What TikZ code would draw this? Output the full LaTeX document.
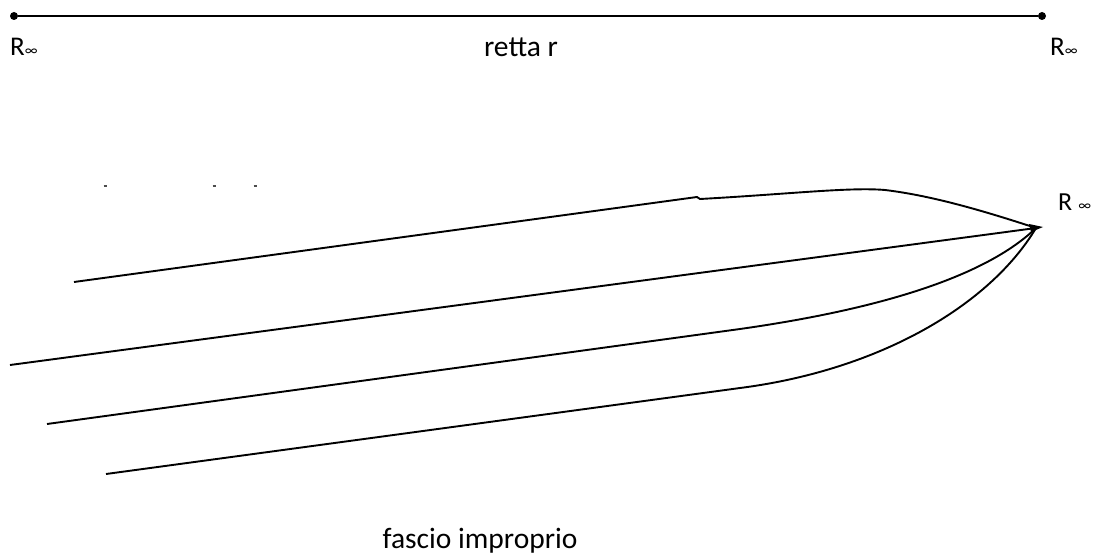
\documentclass[tikz,border=0pt]{standalone}
\usepackage{fontspec}
\setmainfont{Carlito}
\usepackage{tikz}
\usetikzlibrary{positioning}

\newcommand{\infsmall}{{\fontsize{15}{16}\selectfont\raisebox{0pt}{∞}}}

\begin{document}
\begin{tikzpicture}[
    x=1pt, y=-1pt,
    line/.style={draw=black, line width=1.9pt},
    dot/.style={circle, fill=black, inner sep=0pt, minimum size=8pt},
    lbl/.style={inner sep=0pt, anchor=base west, font=\fontsize{27}{30}\selectfont},
    title/.style={inner sep=0pt, anchor=base, font=\fontsize{29.5}{32}\selectfont}
]
\useasboundingbox (0,0) rectangle (1094,556);

% Retta r
\node[dot] (left) at (14,16) {};
\node[dot] (right) at (1042,16) {};
\draw[line] (left) -- (right);

\node[lbl] (lleft) at (10,56) {R\infsmall};
\node[lbl] (lright) at (1050,56) {R\infsmall};
\node[title] (retta) at (521,57) {retta r};

% Fascio improprio
\coordinate (R) at (1036,228);
\coordinate (s1) at (74,282);
\coordinate (s2) at (10,365);
\coordinate (s3) at (47,424);
\coordinate (s4) at (106,474);

\draw[line] (s1) -- (697,197) -- (700,199)
    .. controls (790,194) and (850,187) .. (885,190)
    .. controls (935,196) and (990,213) .. (R);
\draw[line] (s2) -- (R);
\draw[line] (s3) -- (740,329) .. controls (860,312) and (980,282) .. (R);
\draw[line] (s4) -- (740,388) .. controls (880,370) and (990,305) .. (R);
\fill (1029,224) -- (1043,227) -- (1031,232) -- cycle;

\node[lbl, font=\fontsize{26}{28}\selectfont] (lR) at (1058,211) {R\hspace{6pt}\infsmall};
\node[title] (fascio) at (480,548) {fascio improprio};

% segni
\foreach \x in {105,214,255}
    \draw[line width=1.2pt, black!70] (\x-1.5,186) -- (\x+1.5,186);

\end{tikzpicture}
\end{document}
